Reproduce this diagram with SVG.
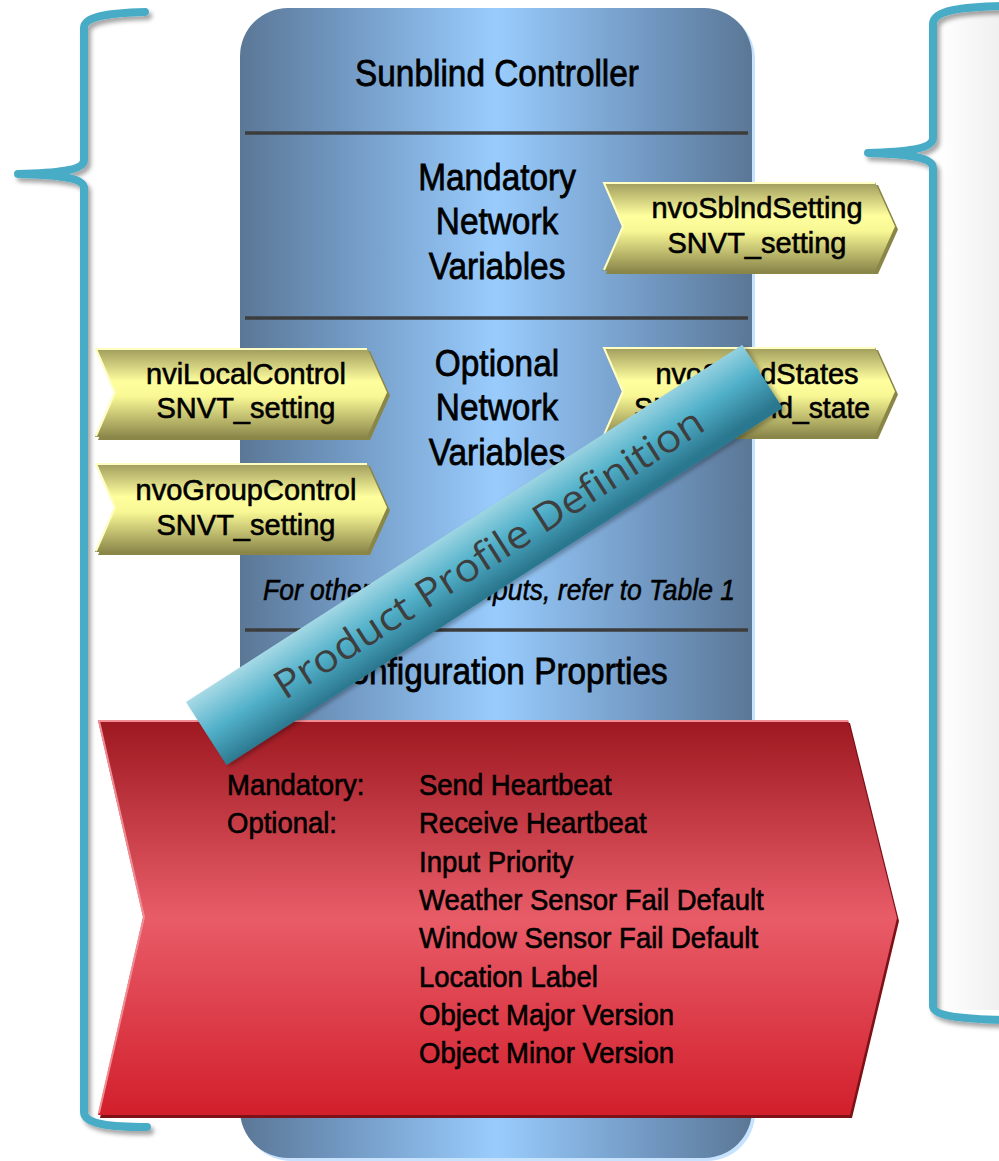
<svg xmlns="http://www.w3.org/2000/svg" xmlns:xlink="http://www.w3.org/1999/xlink" width="999" height="1161" viewBox="0 0 999 1161">
  <defs>
    <linearGradient id="colGrad" x1="0" y1="0" x2="1" y2="0">
      <stop offset="0" stop-color="#5B7796"/>
      <stop offset="0.2" stop-color="#7198C2"/>
      <stop offset="0.5" stop-color="#99CCFD"/>
      <stop offset="0.8" stop-color="#7198C2"/>
      <stop offset="1" stop-color="#5B7796"/>
    </linearGradient>
    <linearGradient id="yelGrad" x1="0" y1="0" x2="0" y2="1">
      <stop offset="0" stop-color="#9E9A5C"/>
      <stop offset="0.38" stop-color="#FFFF9E"/>
      <stop offset="0.55" stop-color="#F8F794"/>
      <stop offset="1" stop-color="#8C884C"/>
    </linearGradient>
    <linearGradient id="redGrad" x1="0" y1="0" x2="0" y2="1">
      <stop offset="0" stop-color="#9D1820"/>
      <stop offset="0.5" stop-color="#E85C68"/>
      <stop offset="1" stop-color="#D21F2C"/>
    </linearGradient>
    <linearGradient id="ribGrad" x1="0" y1="0" x2="0.12" y2="1">
      <stop offset="0" stop-color="#A8DAE6"/>
      <stop offset="0.5" stop-color="#52B1CA"/>
      <stop offset="1" stop-color="#2B788F"/>
    </linearGradient>
    <linearGradient id="panelGrad" x1="0" y1="0" x2="1" y2="0">
      <stop offset="0" stop-color="#FFFFFF"/>
      <stop offset="1" stop-color="#F0F0F0"/>
    </linearGradient>
    <filter id="braceShadow" x="-20%" y="-5%" width="140%" height="110%">
      <feDropShadow dx="3" dy="4" stdDeviation="2" flood-color="#000" flood-opacity="0.35"/>
    </filter>
    <filter id="ribShadow" x="-10%" y="-30%" width="120%" height="160%">
      <feDropShadow dx="2" dy="3" stdDeviation="2" flood-color="#000" flood-opacity="0.3"/>
    </filter>
    <!-- yellow chevron tag: shadow, body, light edge -->
    <g id="tag">
      <polygon fill="#8A8648" points="3,3 275,3 295,47.5 275,92 3,92 22,47.5"/>
      <polygon fill="url(#yelGrad)" points="0,0 272,0 292,44.5 272,89 0,89 19,44.5"/>
      <polyline fill="none" stroke="#FFFFC4" stroke-width="2" points="1,88 20,44.5 1,1 272,1"/>
    </g>
    <style>
      .brace { fill: none; stroke: #4AACC6; stroke-width: 8; stroke-linecap: round; stroke-linejoin: round; }
      .divider { stroke: #3C3C3C; stroke-width: 3.5; }
      .hd, .note, .tg, .cp { font-family: "Liberation Sans", Arial, sans-serif; fill: #000; stroke: #000; stroke-width: 0.7px; }
      .hd { font-size: 33.4px; text-anchor: middle; }
      .note { font-size: 26.5px; font-style: italic; stroke-width: 0.5px; }
      .tg { font-size: 29px; text-anchor: middle; stroke-width: 0.6px; }
      .cp { font-size: 27.5px; stroke-width: 0.6px; }
      .rib { font-family: "Open Sans", "Noto Sans", sans-serif; font-size: 39px; fill: #3E3E3E; }
    </style>
  </defs>

  <rect width="999" height="1161" fill="#FFFFFF"/>

  <!-- side panel behind the right brace -->
  <rect x="940" y="10" width="59" height="1000" fill="url(#panelGrad)"/>

  <!-- braces -->
  <g id="connectors">
    <path id="brace-left" class="brace" filter="url(#braceShadow)"
          d="M145,12 C110,13 84,16 84,28 L84,160 C84,170 60,173 18,174 C60,175 84,178 84,188 L84,1112 C84,1124 110,1127 147,1127"/>
    <path id="brace-right" class="brace" filter="url(#braceShadow)"
          d="M1003,6 C962,7 933,10 933,24 L933,138 C933,149 905,152 868,153 C905,154 933,157 933,168 L933,1006 C933,1016 962,1019 1003,1020"/>
  </g>

  <!-- controller column -->
  <g id="controller">
    <rect x="243" y="11" width="512" height="1150" rx="48" ry="48" fill="#C6E2FF"/>
    <rect x="240" y="8" width="512" height="1150" rx="48" ry="48" fill="url(#colGrad)"/>
    <line class="divider" x1="245" y1="133" x2="748" y2="133"/>
    <line class="divider" x1="245" y1="318" x2="748" y2="318"/>
    <line class="divider" x1="245" y1="630" x2="748" y2="630"/>
    <text class="hd" transform="matrix(1 0 0 1.1 497 86)">Sunblind Controller</text>
    <text class="hd" transform="matrix(1 0 0 1.1 497 190)">Mandatory</text>
    <text class="hd" transform="matrix(1 0 0 1.1 497 234)">Network</text>
    <text class="hd" transform="matrix(1 0 0 1.1 497 279)">Variables</text>
    <text class="hd" transform="matrix(1 0 0 1.1 497 376)">Optional</text>
    <text class="hd" transform="matrix(1 0 0 1.1 497 420)">Network</text>
    <text class="hd" transform="matrix(1 0 0 1.1 497 465)">Variables</text>
    <text class="note" transform="matrix(1 0 0 1.1 263 600)">For other</text>
    <text class="note" text-anchor="end" transform="matrix(1 0 0 1.1 735 600)">inputs, refer to Table 1</text>
    <text class="hd" transform="matrix(1 0 0 1.1 497 684)">Configuration Proprties</text>
  </g>

  <!-- network variable tags -->
  <g id="nvoSblndSetting">
    <use xlink:href="#tag" href="#tag" transform="translate(603,182)"/>
    <text class="tg" x="757" y="218">nvoSblndSetting</text>
    <text class="tg" x="757" y="253">SNVT_setting</text>
  </g>
  <g id="nviLocalControl">
    <use xlink:href="#tag" href="#tag" transform="translate(95,348)"/>
    <text class="tg" x="246" y="384">nviLocalControl</text>
    <text class="tg" x="246" y="418">SNVT_setting</text>
  </g>
  <g id="nvoSblndStates">
    <use xlink:href="#tag" href="#tag" transform="translate(603,347)"/>
    <text class="tg" x="757" y="384">nvoSblndStates</text>
    <text class="tg" x="752" y="418" textLength="236" lengthAdjust="spacingAndGlyphs">SNVT_sblnd_state</text>
  </g>
  <g id="nvoGroupControl">
    <use xlink:href="#tag" href="#tag" transform="translate(95,463)"/>
    <text class="tg" x="246" y="500">nvoGroupControl</text>
    <text class="tg" x="246" y="535">SNVT_setting</text>
  </g>

  <!-- configuration properties banner -->
  <g id="config-properties">
    <polygon fill="#7E1017" points="100,723 850,723 899,921 852,1118 100,1118 145,920"/>
    <polygon fill="url(#redGrad)" points="98,720 848,720 897,918 850,1115 98,1115 143,917"/>
    <polyline fill="none" stroke="#F08C94" stroke-width="2" points="99,1113 144,917 99,721 848,721"/>
    <text class="cp" transform="matrix(1 0 0 1.1 227 795)">Mandatory:</text>
    <text class="cp" transform="matrix(1 0 0 1.1 227 833)">Optional:</text>
    <text class="cp" transform="matrix(1 0 0 1.1 419 795)">Send Heartbeat</text>
    <text class="cp" transform="matrix(1 0 0 1.1 419 833)">Receive Heartbeat</text>
    <text class="cp" transform="matrix(1 0 0 1.1 419 872)">Input Priority</text>
    <text class="cp" transform="matrix(1 0 0 1.1 419 910)">Weather Sensor Fail Default</text>
    <text class="cp" transform="matrix(1 0 0 1.1 419 948)">Window Sensor Fail Default</text>
    <text class="cp" transform="matrix(1 0 0 1.1 419 987)">Location Label</text>
    <text class="cp" transform="matrix(1 0 0 1.1 419 1025)">Object Major Version</text>
    <text class="cp" transform="matrix(1 0 0 1.1 419 1063)">Object Minor Version</text>
  </g>

  <!-- diagonal ribbon -->
  <g id="product-profile" transform="translate(186,702) rotate(-32.7)">
    <rect x="0" y="0" width="661" height="75" fill="url(#ribGrad)" filter="url(#ribShadow)"/>
    <text class="rib" x="84" y="52" textLength="502" lengthAdjust="spacingAndGlyphs">Product Profile Definition</text>
  </g>
</svg>
